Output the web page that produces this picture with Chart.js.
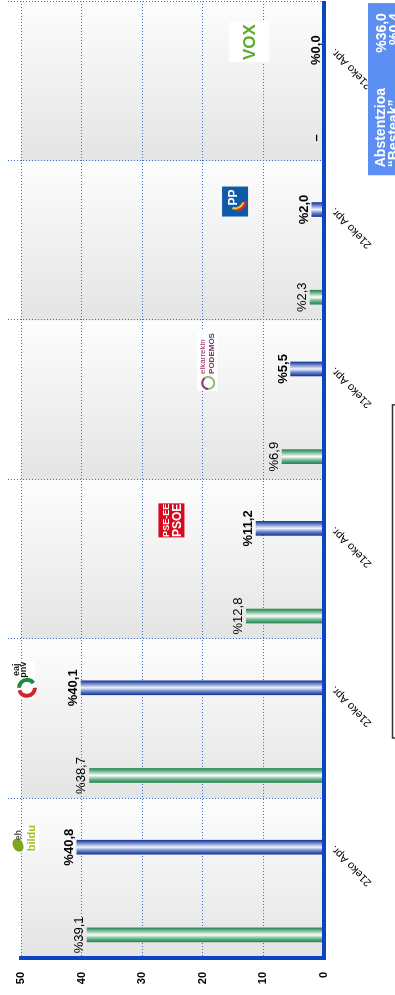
<!DOCTYPE html>
<html>
<head>
<meta charset="utf-8">
<script src="https://cdn.jsdelivr.net/npm/chart.js@4/dist/chart.umd.min.js"></script>
<style>
    html, body { margin: 0; padding: 0; background: #fff; overflow: hidden; }
    #wrap {
        position: absolute; left: 0; top: 0; width: 995px; height: 395px;
        transform-origin: 0 0; transform: translateY(995px) rotate(-90deg);
    }
</style>
</head>
<body>
<div id="wrap"><canvas id="chartOne" width="995" height="395"></canvas></div>
<script>
var parties = ["EH Bildu", "EAJ-PNV", "PSE-EE PSOE", "Elkarrekin Podemos", "PP", "Vox"]
var greenValues = [39.1, 38.7, 12.8, 6.9, 2.3, null]
var blueValues = [40.8, 40.1, 11.2, 5.5, 2.0, 0.0]
var periodLabels = ["", "21eko Apr."]
var valueTicks = [0, 10, 20, 30, 40, 50]
var otherLabels = ["Abstentzioa", "\u201CBesteak\u201D"]
var otherValues = [36.0, 0.4]

// where the two bars sit inside each party band (fraction of the band)
var GREEN_POS = 0.145
var BLUE_POS = 0.695
var FONT = "'Liberation Sans', Arial, sans-serif"

function pct(v) {
    return v == null ? "\u2013" : "%" + v.toFixed(1).replace(".", ",")
}

function barFill(stops) {
    return function (c) {
        var chart = c.chart
        if (!chart.chartArea || !c.parsed) return stops[0]
        var px = chart.scales.x.getPixelForValue(c.parsed.x)
        var g = chart.ctx.createLinearGradient(px - 7, 0, px + 7, 0)
        stops.forEach(function (s, i) { g.addColorStop(i / (stops.length - 1), s) })
        return g
    }
}

var bands = {
    id: "bands",
    beforeDraw: function (chart) {
        var ctx = chart.ctx, x = chart.scales.x, y = chart.scales.y
        var top = y.getPixelForValue(valueTicks[valueTicks.length - 1]), bottom = y.getPixelForValue(0)
        ctx.save()
        parties.forEach(function (p, i) {
            var x0 = x.getPixelForValue(i), x1 = x.getPixelForValue(i + 1)
            var g = ctx.createLinearGradient(x0, 0, x1, 0)
            g.addColorStop(0, "#e4e4e4")
            g.addColorStop(1, "#fdfdfd")
            ctx.fillStyle = g
            ctx.fillRect(x0, top, x1 - x0, bottom - top)
        })
        ctx.restore()
    },
    beforeDatasetsDraw: function (chart) {
        var ctx = chart.ctx, x = chart.scales.x, y = chart.scales.y
        ctx.save()
        ctx.strokeStyle = "#3d6fd6"
        ctx.lineWidth = 1
        ctx.setLineDash([1, 2])
        for (var i = 1; i <= parties.length; i++) {
            var px = Math.min(Math.round(x.getPixelForValue(i)) + 0.5, chart.width - 1.5)
            ctx.beginPath()
            ctx.moveTo(px, 8)
            ctx.lineTo(px, y.getPixelForValue(0))
            ctx.stroke()
        }
        ctx.restore()
    }
}

function drawLogo(ctx, i, cx, cy) {
    ctx.save()
    ctx.textAlign = "center"
    ctx.textBaseline = "alphabetic"
    if (i === 0) {
        ctx.fillStyle = "#fff"
        ctx.fillRect(cx - 12, cy - 6, 24, 16)
        ctx.fillStyle = "#7da61c"
        ctx.beginPath()
        ctx.ellipse(cx - 6, cy - 11, 7, 5, -0.5, 0, Math.PI * 2)
        ctx.fill()
        ctx.fillStyle = "#555"
        ctx.font = "bold 9px " + FONT
        ctx.fillText("eh", cx + 4, cy - 8)
        ctx.fillStyle = "#a3bf1a"
        ctx.font = "bold 11px " + FONT
        ctx.fillText("bildu", cx + 1, cy + 6)
    } else if (i === 1) {
        ctx.fillStyle = "#fff"
        ctx.fillRect(cx - 19, cy - 16, 38, 22)
        ctx.lineWidth = 4
        ctx.strokeStyle = "#d0262b"
        ctx.beginPath(); ctx.arc(cx - 8, cy - 2, 8, Math.PI * 0.5, Math.PI * 1.4); ctx.stroke()
        ctx.strokeStyle = "#1d8a3c"
        ctx.beginPath(); ctx.arc(cx - 8, cy - 2, 8, Math.PI * 1.5, Math.PI * 2.3); ctx.stroke()
        ctx.fillStyle = "#111"
        ctx.font = "bold 9px " + FONT
        ctx.fillText("eaj", cx + 10, cy - 10)
        ctx.fillText("pnv", cx + 10, cy - 3)
    } else if (i === 2) {
        ctx.fillStyle = "#d7091f"
        ctx.fillRect(cx - 17, cy - 13, 34, 26)
        ctx.fillStyle = "#fff"
        ctx.font = "bold 9px " + FONT
        ctx.fillText("PSE-EE", cx, cy - 2)
        ctx.font = "bold 12px " + FONT
        ctx.fillText("PSOE", cx, cy + 10)
    } else if (i === 3) {
        ctx.fillStyle = "#fff"
        ctx.fillRect(cx - 30, cy - 10, 60, 20)
        ctx.lineWidth = 2
        ctx.strokeStyle = "#8dc26b"
        ctx.beginPath(); ctx.arc(cx - 22, cy + 1, 6, 0, Math.PI * 2); ctx.stroke()
        ctx.strokeStyle = "#8e3b7a"
        ctx.beginPath(); ctx.arc(cx - 22, cy + 1, 6, Math.PI, Math.PI * 1.8); ctx.stroke()
        ctx.textAlign = "left"
        ctx.fillStyle = "#9b2763"
        ctx.font = "8px " + FONT
        ctx.fillText("elkarrekin", cx - 13, cy - 2)
        ctx.fillStyle = "#7a2f6e"
        ctx.font = "bold 8px " + FONT
        ctx.fillText("PODEMOS", cx - 13, cy + 7)
    } else if (i === 4) {
        ctx.fillStyle = "#0f5aa7"
        ctx.fillRect(cx - 15, cy - 13, 30, 26)
        ctx.lineWidth = 2.5
        ctx.strokeStyle = "#f3c316"
        ctx.beginPath(); ctx.arc(cx + 2, cy, 9, Math.PI * 0.6, Math.PI * 1.1); ctx.stroke()
        ctx.strokeStyle = "#d82a2a"
        ctx.beginPath(); ctx.arc(cx + 2, cy, 11, Math.PI * 0.55, Math.PI * 0.95); ctx.stroke()
        ctx.fillStyle = "#fff"
        ctx.font = "bold 12px " + FONT
        ctx.fillText("PP", cx + 4, cy + 2)
    } else {
        ctx.fillStyle = "#fff"
        ctx.fillRect(cx - 20, cy - 20, 40, 40)
        ctx.fillStyle = "#5cad2f"
        ctx.font = "bold 17px " + FONT
        ctx.fillText("VOX", cx, cy + 6)
    }
    ctx.restore()
}

var labels = {
    id: "labels",
    afterDatasetsDraw: function (chart) {
        var ctx = chart.ctx, x = chart.scales.x, y = chart.scales.y
        ctx.save()
        ctx.fillStyle = "#000"
        ctx.textAlign = "center"
        ctx.textBaseline = "alphabetic"
        parties.forEach(function (p, i) {
            var g = greenValues[i], b = blueValues[i]
            ctx.font = (g == null ? "bold " : "") + "13px " + FONT
            ctx.fillText(pct(g), x.getPixelForValue(i + GREEN_POS), y.getPixelForValue(g || 0) - 4)
            ctx.font = "bold 13px " + FONT
            ctx.fillText(pct(b), x.getPixelForValue(i + BLUE_POS), y.getPixelForValue(b) - 4)
            var top = Math.max(y.getPixelForValue(Math.max(g || 0, b)) - 75, 29)
            drawLogo(ctx, i, x.getPixelForValue(i + BLUE_POS) + 8, top)
        })
        ctx.restore()
    },
    afterDraw: function (chart) {
        var ctx = chart.ctx, x = chart.scales.x
        var bx0 = x.getPixelForValue(4.91), bx1 = x.getPixelForValue(5.99)
        ctx.save()
        ctx.fillStyle = "#5d8ff2"
        ctx.fillRect(bx0, 368, bx1 - bx0, 40)
        ctx.fillStyle = "#fff"
        ctx.font = "bold 14px " + FONT
        otherLabels.forEach(function (t, k) {
            ctx.textAlign = "left"
            ctx.fillText(t, bx0 + 8, 385 + k * 13)
            ctx.textAlign = "right"
            ctx.fillText(pct(otherValues[k]), bx1 - 10, 386 + k * 13)
        })
        // legend frame, cut off by the bottom edge
        var lx0 = x.getPixelForValue(1.38), lx1 = x.getPixelForValue(3.47)
        ctx.strokeStyle = "#333"
        ctx.lineWidth = 1.5
        ctx.strokeRect(lx0, 392.5, lx1 - lx0, 20)
        ctx.restore()
    }
}

var getChartOne = document.getElementById("chartOne")

var chartOne = new Chart(getChartOne, {
    type: "bar",
    data: {
        datasets: [{
            label: periodLabels[0],
            data: greenValues.map(function (v, i) { return { x: i + GREEN_POS, y: v } }),
            backgroundColor: barFill(["#238653", "#74b891", "#ffffff", "#8cc5a4", "#238653"])
        }, {
            label: periodLabels[1],
            data: blueValues.map(function (v, i) { return { x: i + BLUE_POS, y: v } }),
            backgroundColor: barFill(["#15379a", "#6a84c6", "#f2f4fb", "#7f95cf", "#15379a"])
        }]
    },
    options: {
        responsive: false,
        animation: false,
        events: [],
        barThickness: 14,
        grouped: false,
        layout: { padding: { top: 21, right: 1.5, left: 0, bottom: 0 } },
        plugins: { legend: { display: false }, tooltip: { enabled: false } },
        scales: {
            x: {
                type: "linear",
                offset: false,
                min: 0,
                max: parties.length,
                grid: { display: false, drawTicks: false },
                border: { color: "#0b45c4", width: 4, z: 1 },
                afterBuildTicks: function (s) {
                    s.ticks = parties.map(function (p, i) { return { value: i + BLUE_POS } })
                },
                afterFit: function (s) { s.height = 71 },
                ticks: {
                    autoSkip: false,
                    minRotation: 45,
                    maxRotation: 45,
                    padding: 4,
                    color: "#000",
                    font: { family: FONT, size: 11 },
                    callback: function () { return periodLabels[1] }
                }
            },
            y: {
                min: valueTicks[0],
                max: valueTicks[valueTicks.length - 1],
                afterBuildTicks: function (s) {
                    s.ticks = valueTicks.map(function (v) { return { value: v } })
                },
                afterFit: function (s) { s.width = 37 },
                grid: {
                    drawTicks: false,
                    color: function (c) { return c.tick && c.tick.value === 0 ? "rgba(0,0,0,0)" : "#3d6fd6" }
                },
                border: { color: "#0b45c4", width: 4, dash: [1, 2], z: 1 },
                ticks: {
                    padding: 14,
                    color: "#000",
                    font: { family: FONT, size: 11, weight: "bold" }
                }
            }
        }
    },
    plugins: [bands, labels]
})
</script>
</body>
</html>
